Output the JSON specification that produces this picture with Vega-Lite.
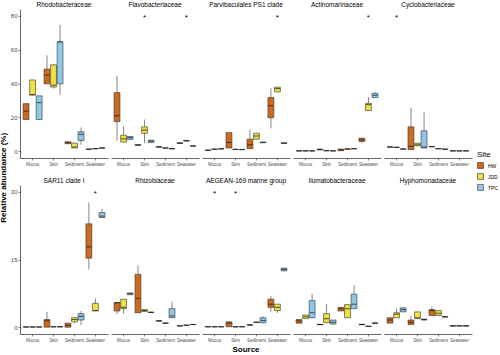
{
  "$schema": "https://vega.github.io/schema/vega-lite/v6.json",
  "padding": {"left": 0, "top": 1, "right": 0, "bottom": 0},
  "background": "white",
  "title": {"text": "Relative abundance (%)", "orient": "left", "anchor": "middle", "fontSize": 8, "fontWeight": "bold", "font": "Liberation Sans", "offset": 2, "color": "black"},
  "config": {
    "font": "Liberation Sans",
    "view": {"stroke": null},
    "axis": {"domainColor": "black", "domainWidth": 0.6, "tickColor": "#333333", "tickWidth": 0.6, "tickSize": 2, "labelColor": "#4d4d4d", "grid": false, "labelPadding": 1, "labelOverlap": false, "titleFont": "Liberation Sans", "titleFontWeight": "bold", "titleColor": "black"},
    "header": {"labelFont": "Liberation Sans", "labelFontSize": 6.5, "labelColor": "black", "labelPadding": 1, "titleFont": "Liberation Sans", "titleFontSize": 8, "titleFontWeight": "bold", "titleColor": "black", "titlePadding": 1},
    "legend": {"titleFontSize": 8, "titleFontWeight": "normal", "labelFontSize": 5, "symbolType": "square", "symbolSize": 35, "symbolStrokeColor": "#333333", "symbolStrokeWidth": 0.6, "rowPadding": 2, "titlePadding": 3}
  },
  "datasets": {
    "d": [
      {"r":"a","f":"Rhodobacteraceae","s":"Mucus","site":"HW","lo":18.7,"q1":18.7,"md":23.7,"q3":28.1,"hi":28.1},
      {"r":"a","f":"Rhodobacteraceae","s":"Mucus","site":"JDD","lo":33.1,"q1":33.1,"md":33.5,"q3":42.1,"hi":42.1},
      {"r":"a","f":"Rhodobacteraceae","s":"Mucus","site":"TPC","lo":18.7,"q1":18.7,"md":28.7,"q3":32.7,"hi":32.7},
      {"r":"a","f":"Rhodobacteraceae","s":"Skin","site":"HW","lo":39.8,"q1":39.8,"md":45,"q3":48.5,"hi":56.7},
      {"r":"a","f":"Rhodobacteraceae","s":"Skin","site":"JDD","lo":37,"q1":37.9,"md":39,"q3":51,"hi":51.5},
      {"r":"a","f":"Rhodobacteraceae","s":"Skin","site":"TPC","lo":33.3,"q1":39.8,"md":64.6,"q3":64.6,"hi":74.6},
      {"r":"a","f":"Rhodobacteraceae","s":"Sediment","site":"HW","lo":4.4,"q1":4.4,"md":5,"q3":5.6,"hi":5.6},
      {"r":"a","f":"Rhodobacteraceae","s":"Sediment","site":"JDD","lo":1.9,"q1":1.9,"md":2.5,"q3":4.8,"hi":4.8},
      {"r":"a","f":"Rhodobacteraceae","s":"Sediment","site":"TPC","lo":3.8,"q1":6.3,"md":10,"q3":11.5,"hi":14},
      {"r":"a","f":"Rhodobacteraceae","s":"Seawater","site":"HW","lo":1,"q1":1.1,"md":1.2,"q3":1.3,"hi":1.4},
      {"r":"a","f":"Rhodobacteraceae","s":"Seawater","site":"JDD","lo":1.3,"q1":1.4,"md":1.5,"q3":1.6,"hi":1.7},
      {"r":"a","f":"Rhodobacteraceae","s":"Seawater","site":"TPC","lo":1.7,"q1":1.8,"md":1.9,"q3":2,"hi":2.1},

      {"r":"a","f":"Flavobacteriaceae","s":"Mucus","site":"HW","lo":6.2,"q1":17.5,"md":21,"q3":34.6,"hi":44.6},
      {"r":"a","f":"Flavobacteriaceae","s":"Mucus","site":"JDD","lo":5.4,"q1":5.4,"md":7.3,"q3":9.4,"hi":14.8},
      {"r":"a","f":"Flavobacteriaceae","s":"Mucus","site":"TPC","lo":7,"q1":7,"md":8,"q3":8.7,"hi":8.7},
      {"r":"a","f":"Flavobacteriaceae","s":"Skin","site":"HW","lo":3.4,"q1":3.5,"md":3.7,"q3":3.9,"hi":4},
      {"r":"a","f":"Flavobacteriaceae","s":"Skin","site":"JDD","lo":4.8,"q1":10.6,"md":12.5,"q3":14.4,"hi":18.7},
      {"r":"a","f":"Flavobacteriaceae","s":"Skin","site":"TPC","lo":5.2,"q1":5.2,"md":6,"q3":6.5,"hi":6.5},
      {"r":"a","f":"Flavobacteriaceae","s":"Sediment","site":"HW","lo":2.3,"q1":2.4,"md":2.5,"q3":2.7,"hi":2.8},
      {"r":"a","f":"Flavobacteriaceae","s":"Sediment","site":"JDD","lo":1.7,"q1":1.8,"md":1.9,"q3":2,"hi":2.1},
      {"r":"a","f":"Flavobacteriaceae","s":"Sediment","site":"TPC","lo":1.3,"q1":1.4,"md":1.5,"q3":1.6,"hi":1.7},
      {"r":"a","f":"Flavobacteriaceae","s":"Seawater","site":"HW","lo":4.5,"q1":4.6,"md":4.8,"q3":5,"hi":5.1},
      {"r":"a","f":"Flavobacteriaceae","s":"Seawater","site":"JDD","lo":5.8,"q1":6,"md":6.2,"q3":6.4,"hi":6.6},
      {"r":"a","f":"Flavobacteriaceae","s":"Seawater","site":"TPC","lo":2.9,"q1":3,"md":3.1,"q3":3.2,"hi":3.3},
      {"r":"a","f":"Flavobacteriaceae","s":"Skin","star":80},
      {"r":"a","f":"Flavobacteriaceae","s":"Seawater","star":80},

      {"r":"a","f":"Parvibaculales PS1 clade","s":"Mucus","site":"HW","lo":0.5,"q1":0.5,"md":0.6,"q3":0.7,"hi":0.7},
      {"r":"a","f":"Parvibaculales PS1 clade","s":"Mucus","site":"JDD","lo":1,"q1":1.1,"md":1.2,"q3":1.3,"hi":1.4},
      {"r":"a","f":"Parvibaculales PS1 clade","s":"Mucus","site":"TPC","lo":1.2,"q1":1.3,"md":1.4,"q3":1.5,"hi":1.6},
      {"r":"a","f":"Parvibaculales PS1 clade","s":"Skin","site":"HW","lo":1.9,"q1":1.9,"md":5.2,"q3":11,"hi":11},
      {"r":"a","f":"Parvibaculales PS1 clade","s":"Skin","site":"JDD","lo":0.9,"q1":1,"md":1.1,"q3":1.2,"hi":1.3},
      {"r":"a","f":"Parvibaculales PS1 clade","s":"Skin","site":"TPC","lo":0.8,"q1":0.9,"md":1,"q3":1.1,"hi":1.2},
      {"r":"a","f":"Parvibaculales PS1 clade","s":"Sediment","site":"HW","lo":1.5,"q1":1.5,"md":3.8,"q3":7.1,"hi":12.9},
      {"r":"a","f":"Parvibaculales PS1 clade","s":"Sediment","site":"JDD","lo":7.1,"q1":7.1,"md":9,"q3":10.6,"hi":10.6},
      {"r":"a","f":"Parvibaculales PS1 clade","s":"Sediment","site":"TPC","lo":4.9,"q1":5,"md":5.2,"q3":5.4,"hi":5.5},
      {"r":"a","f":"Parvibaculales PS1 clade","s":"Seawater","site":"HW","lo":13.5,"q1":19.8,"md":26.9,"q3":31.7,"hi":37.1},
      {"r":"a","f":"Parvibaculales PS1 clade","s":"Seawater","site":"JDD","lo":35,"q1":35,"md":37,"q3":37.8,"hi":37.8},
      {"r":"a","f":"Parvibaculales PS1 clade","s":"Seawater","site":"TPC","lo":4.5,"q1":4.6,"md":4.8,"q3":5,"hi":5.1},
      {"r":"a","f":"Parvibaculales PS1 clade","s":"Seawater","star":80},

      {"r":"a","f":"Actinomarinaceae","s":"Mucus","site":"HW","lo":0.1,"q1":0.15,"md":0.2,"q3":0.25,"hi":0.3},
      {"r":"a","f":"Actinomarinaceae","s":"Mucus","site":"JDD","lo":0.1,"q1":0.15,"md":0.2,"q3":0.25,"hi":0.3},
      {"r":"a","f":"Actinomarinaceae","s":"Mucus","site":"TPC","lo":0.1,"q1":0.15,"md":0.2,"q3":0.25,"hi":0.3},
      {"r":"a","f":"Actinomarinaceae","s":"Skin","site":"HW","lo":0.6,"q1":0.8,"md":1,"q3":1.2,"hi":1.6},
      {"r":"a","f":"Actinomarinaceae","s":"Skin","site":"JDD","lo":0.2,"q1":0.25,"md":0.3,"q3":0.4,"hi":0.5},
      {"r":"a","f":"Actinomarinaceae","s":"Skin","site":"TPC","lo":0.1,"q1":0.15,"md":0.2,"q3":0.25,"hi":0.3},
      {"r":"a","f":"Actinomarinaceae","s":"Sediment","site":"HW","lo":0.2,"q1":0.3,"md":0.8,"q3":1.3,"hi":1.3},
      {"r":"a","f":"Actinomarinaceae","s":"Sediment","site":"JDD","lo":1.1,"q1":1.2,"md":1.3,"q3":1.4,"hi":1.5},
      {"r":"a","f":"Actinomarinaceae","s":"Sediment","site":"TPC","lo":1.3,"q1":1.4,"md":1.5,"q3":1.6,"hi":1.7},
      {"r":"a","f":"Actinomarinaceae","s":"Seawater","site":"HW","lo":5,"q1":5.8,"md":6.7,"q3":7.7,"hi":8},
      {"r":"a","f":"Actinomarinaceae","s":"Seawater","site":"JDD","lo":24,"q1":24,"md":27.5,"q3":28.3,"hi":32},
      {"r":"a","f":"Actinomarinaceae","s":"Seawater","site":"TPC","lo":31.7,"q1":31.7,"md":33,"q3":34.2,"hi":35},
      {"r":"a","f":"Actinomarinaceae","s":"Seawater","star":80},

      {"r":"a","f":"Cyclobacteriaceae","s":"Mucus","site":"HW","lo":2.3,"q1":2.4,"md":2.5,"q3":2.6,"hi":2.7},
      {"r":"a","f":"Cyclobacteriaceae","s":"Mucus","site":"JDD","lo":2.1,"q1":2.2,"md":2.3,"q3":2.4,"hi":2.5},
      {"r":"a","f":"Cyclobacteriaceae","s":"Mucus","site":"TPC","lo":1.1,"q1":1.2,"md":1.3,"q3":1.4,"hi":1.5},
      {"r":"a","f":"Cyclobacteriaceae","s":"Skin","site":"HW","lo":1,"q1":1,"md":2.9,"q3":14.4,"hi":25.6},
      {"r":"a","f":"Cyclobacteriaceae","s":"Skin","site":"JDD","lo":3.2,"q1":3.2,"md":3.8,"q3":4.7,"hi":4.7},
      {"r":"a","f":"Cyclobacteriaceae","s":"Skin","site":"TPC","lo":1.9,"q1":1.9,"md":2.5,"q3":12.1,"hi":23},
      {"r":"a","f":"Cyclobacteriaceae","s":"Sediment","site":"HW","lo":2.5,"q1":2.6,"md":2.7,"q3":2.8,"hi":3},
      {"r":"a","f":"Cyclobacteriaceae","s":"Sediment","site":"JDD","lo":1.3,"q1":1.4,"md":1.5,"q3":1.6,"hi":1.7},
      {"r":"a","f":"Cyclobacteriaceae","s":"Sediment","site":"TPC","lo":1,"q1":1.1,"md":1.2,"q3":1.3,"hi":1.4},
      {"r":"a","f":"Cyclobacteriaceae","s":"Seawater","site":"HW","lo":0.1,"q1":0.15,"md":0.2,"q3":0.25,"hi":0.3},
      {"r":"a","f":"Cyclobacteriaceae","s":"Seawater","site":"JDD","lo":0.1,"q1":0.15,"md":0.2,"q3":0.25,"hi":0.3},
      {"r":"a","f":"Cyclobacteriaceae","s":"Seawater","site":"TPC","lo":0.1,"q1":0.15,"md":0.2,"q3":0.25,"hi":0.3},
      {"r":"a","f":"Cyclobacteriaceae","s":"Mucus","star":80},

      {"r":"b","f":"SAR11 clade I","s":"Mucus","site":"HW","lo":0.02,"q1":0.03,"md":0.05,"q3":0.07,"hi":0.08},
      {"r":"b","f":"SAR11 clade I","s":"Mucus","site":"JDD","lo":0.02,"q1":0.03,"md":0.05,"q3":0.07,"hi":0.08},
      {"r":"b","f":"SAR11 clade I","s":"Mucus","site":"TPC","lo":0.02,"q1":0.03,"md":0.05,"q3":0.07,"hi":0.08},
      {"r":"b","f":"SAR11 clade I","s":"Skin","site":"HW","lo":0,"q1":0,"md":1.4,"q3":1.7,"hi":3.4},
      {"r":"b","f":"SAR11 clade I","s":"Skin","site":"JDD","lo":0.05,"q1":0.08,"md":0.1,"q3":0.12,"hi":0.15},
      {"r":"b","f":"SAR11 clade I","s":"Skin","site":"TPC","lo":0.05,"q1":0.08,"md":0.1,"q3":0.12,"hi":0.15},
      {"r":"b","f":"SAR11 clade I","s":"Sediment","site":"HW","lo":0,"q1":0,"md":0.4,"q3":0.9,"hi":0.9},
      {"r":"b","f":"SAR11 clade I","s":"Sediment","site":"JDD","lo":0.9,"q1":1.2,"md":1.7,"q3":2.1,"hi":2.1},
      {"r":"b","f":"SAR11 clade I","s":"Sediment","site":"TPC","lo":0.5,"q1":1.6,"md":2.4,"q3":3,"hi":3.6},
      {"r":"b","f":"SAR11 clade I","s":"Seawater","site":"HW","lo":12.8,"q1":15.3,"md":17.8,"q3":22.9,"hi":27.6},
      {"r":"b","f":"SAR11 clade I","s":"Seawater","site":"JDD","lo":3.6,"q1":3.6,"md":3.7,"q3":5.3,"hi":6.4},
      {"r":"b","f":"SAR11 clade I","s":"Seawater","site":"TPC","lo":24.3,"q1":24.3,"md":24.6,"q3":25.4,"hi":26.2},
      {"r":"b","f":"SAR11 clade I","s":"Seawater","star":30},

      {"r":"b","f":"Rhizobiaceae","s":"Mucus","site":"HW","lo":2.9,"q1":3.6,"md":5.4,"q3":5.5,"hi":5.5},
      {"r":"b","f":"Rhizobiaceae","s":"Mucus","site":"JDD","lo":3,"q1":4.1,"md":4.4,"q3":6.2,"hi":6.2},
      {"r":"b","f":"Rhizobiaceae","s":"Mucus","site":"TPC","lo":7.2,"q1":7.2,"md":7.4,"q3":7.6,"hi":7.6},
      {"r":"b","f":"Rhizobiaceae","s":"Skin","site":"HW","lo":3.2,"q1":3.2,"md":6.4,"q3":11.7,"hi":13.7},
      {"r":"b","f":"Rhizobiaceae","s":"Skin","site":"JDD","lo":3.5,"q1":3.5,"md":3.7,"q3":3.9,"hi":3.9},
      {"r":"b","f":"Rhizobiaceae","s":"Skin","site":"TPC","lo":3.2,"q1":3.25,"md":3.3,"q3":3.35,"hi":3.4},
      {"r":"b","f":"Rhizobiaceae","s":"Sediment","site":"HW","lo":1.3,"q1":1.35,"md":1.4,"q3":1.45,"hi":1.5},
      {"r":"b","f":"Rhizobiaceae","s":"Sediment","site":"JDD","lo":0.8,"q1":0.85,"md":0.9,"q3":0.95,"hi":1},
      {"r":"b","f":"Rhizobiaceae","s":"Sediment","site":"TPC","lo":2.1,"q1":2.1,"md":2.5,"q3":4.1,"hi":5.7},
      {"r":"b","f":"Rhizobiaceae","s":"Seawater","site":"HW","lo":0.25,"q1":0.28,"md":0.3,"q3":0.32,"hi":0.35},
      {"r":"b","f":"Rhizobiaceae","s":"Seawater","site":"JDD","lo":0.4,"q1":0.42,"md":0.45,"q3":0.48,"hi":0.5},
      {"r":"b","f":"Rhizobiaceae","s":"Seawater","site":"TPC","lo":0.55,"q1":0.58,"md":0.6,"q3":0.62,"hi":0.65},

      {"r":"b","f":"AEGEAN-169 marine group","s":"Mucus","site":"HW","lo":0.05,"q1":0.08,"md":0.1,"q3":0.12,"hi":0.15},
      {"r":"b","f":"AEGEAN-169 marine group","s":"Mucus","site":"JDD","lo":0.05,"q1":0.08,"md":0.1,"q3":0.12,"hi":0.15},
      {"r":"b","f":"AEGEAN-169 marine group","s":"Mucus","site":"TPC","lo":0.05,"q1":0.08,"md":0.1,"q3":0.12,"hi":0.15},
      {"r":"b","f":"AEGEAN-169 marine group","s":"Skin","site":"HW","lo":0.1,"q1":0.1,"md":0.9,"q3":1.2,"hi":1.2},
      {"r":"b","f":"AEGEAN-169 marine group","s":"Skin","site":"JDD","lo":0.05,"q1":0.08,"md":0.1,"q3":0.12,"hi":0.15},
      {"r":"b","f":"AEGEAN-169 marine group","s":"Skin","site":"TPC","lo":0.05,"q1":0.08,"md":0.1,"q3":0.12,"hi":0.15},
      {"r":"b","f":"AEGEAN-169 marine group","s":"Sediment","site":"HW","lo":0.4,"q1":0.45,"md":0.5,"q3":0.55,"hi":0.6},
      {"r":"b","f":"AEGEAN-169 marine group","s":"Sediment","site":"JDD","lo":1,"q1":1.05,"md":1.1,"q3":1.15,"hi":1.2},
      {"r":"b","f":"AEGEAN-169 marine group","s":"Sediment","site":"TPC","lo":0.8,"q1":1,"md":1.5,"q3":2.1,"hi":2.4},
      {"r":"b","f":"AEGEAN-169 marine group","s":"Seawater","site":"HW","lo":3.4,"q1":4.4,"md":5.1,"q3":6.2,"hi":6.9},
      {"r":"b","f":"AEGEAN-169 marine group","s":"Seawater","site":"JDD","lo":3.2,"q1":3.7,"md":4.4,"q3":5.1,"hi":5.1},
      {"r":"b","f":"AEGEAN-169 marine group","s":"Seawater","site":"TPC","lo":12.4,"q1":12.5,"md":12.8,"q3":13.1,"hi":13.2},
      {"r":"b","f":"AEGEAN-169 marine group","s":"Mucus","star":30},
      {"r":"b","f":"AEGEAN-169 marine group","s":"Skin","star":30},

      {"r":"b","f":"Ilumatobacteraceae","s":"Mucus","site":"HW","lo":0.9,"q1":0.9,"md":1.4,"q3":1.7,"hi":1.7},
      {"r":"b","f":"Ilumatobacteraceae","s":"Mucus","site":"JDD","lo":1.9,"q1":1.9,"md":2.3,"q3":2.7,"hi":2.7},
      {"r":"b","f":"Ilumatobacteraceae","s":"Mucus","site":"TPC","lo":2.1,"q1":2.1,"md":3.2,"q3":5.9,"hi":7.4},
      {"r":"b","f":"Ilumatobacteraceae","s":"Skin","site":"HW","lo":0.5,"q1":0.55,"md":0.6,"q3":0.65,"hi":0.7},
      {"r":"b","f":"Ilumatobacteraceae","s":"Skin","site":"JDD","lo":1,"q1":1,"md":1.9,"q3":3,"hi":5.1},
      {"r":"b","f":"Ilumatobacteraceae","s":"Skin","site":"TPC","lo":0.7,"q1":0.7,"md":1.1,"q3":1.6,"hi":1.6},
      {"r":"b","f":"Ilumatobacteraceae","s":"Sediment","site":"HW","lo":3.6,"q1":3.6,"md":4.1,"q3":4.4,"hi":4.4},
      {"r":"b","f":"Ilumatobacteraceae","s":"Sediment","site":"JDD","lo":2.1,"q1":2.1,"md":4.1,"q3":5,"hi":5},
      {"r":"b","f":"Ilumatobacteraceae","s":"Sediment","site":"TPC","lo":4.1,"q1":4.1,"md":5.1,"q3":7.3,"hi":9.3},
      {"r":"b","f":"Ilumatobacteraceae","s":"Seawater","site":"HW","lo":0.5,"q1":0.55,"md":0.6,"q3":0.65,"hi":0.7},
      {"r":"b","f":"Ilumatobacteraceae","s":"Seawater","site":"JDD","lo":0.15,"q1":0.18,"md":0.2,"q3":0.22,"hi":0.25},
      {"r":"b","f":"Ilumatobacteraceae","s":"Seawater","site":"TPC","lo":0.8,"q1":0.85,"md":0.9,"q3":0.95,"hi":1},

      {"r":"b","f":"Hyphomonadaceae","s":"Mucus","site":"HW","lo":0.9,"q1":0.9,"md":1.6,"q3":2.1,"hi":2.1},
      {"r":"b","f":"Hyphomonadaceae","s":"Mucus","site":"JDD","lo":2.1,"q1":2.1,"md":2.9,"q3":3.2,"hi":4.1},
      {"r":"b","f":"Hyphomonadaceae","s":"Mucus","site":"TPC","lo":3.4,"q1":3.4,"md":3.9,"q3":4.3,"hi":4.3},
      {"r":"b","f":"Hyphomonadaceae","s":"Skin","site":"HW","lo":0.6,"q1":0.6,"md":1.1,"q3":1.6,"hi":2.5},
      {"r":"b","f":"Hyphomonadaceae","s":"Skin","site":"JDD","lo":1.9,"q1":1.9,"md":2.1,"q3":3.4,"hi":3.4},
      {"r":"b","f":"Hyphomonadaceae","s":"Skin","site":"TPC","lo":1.5,"q1":1.6,"md":1.7,"q3":1.8,"hi":1.9},
      {"r":"b","f":"Hyphomonadaceae","s":"Sediment","site":"HW","lo":2.6,"q1":2.6,"md":3.7,"q3":3.9,"hi":4.6},
      {"r":"b","f":"Hyphomonadaceae","s":"Sediment","site":"JDD","lo":2.6,"q1":2.6,"md":3.1,"q3":3.7,"hi":3.7},
      {"r":"b","f":"Hyphomonadaceae","s":"Sediment","site":"TPC","lo":2.2,"q1":2.25,"md":2.3,"q3":2.35,"hi":2.4},
      {"r":"b","f":"Hyphomonadaceae","s":"Seawater","site":"HW","lo":0.2,"q1":0.25,"md":0.3,"q3":0.35,"hi":0.4},
      {"r":"b","f":"Hyphomonadaceae","s":"Seawater","site":"JDD","lo":0.2,"q1":0.25,"md":0.3,"q3":0.35,"hi":0.4},
      {"r":"b","f":"Hyphomonadaceae","s":"Seawater","site":"TPC","lo":0.2,"q1":0.25,"md":0.3,"q3":0.35,"hi":0.4}
    ]
  },
  "resolve": {"scale": {"y": "independent"}},
  "vconcat": [
    {
      "data": {"name": "d"},
      "transform": [{"filter": "datum.r == 'a'"}],
      "facet": {"column": {"field": "f", "type": "nominal", "title": null, "sort": ["Rhodobacteraceae", "Flavobacteriaceae", "Parvibaculales PS1 clade", "Actinomarinaceae", "Cyclobacteriaceae"]}},
      "spacing": 3,
      "spec": {
        "width": 88,
        "height": 149,
        "encoding": {
          "x": {"field": "s", "type": "nominal", "sort": ["Mucus", "Skin", "Sediment", "Seawater"], "scale": {"paddingInner": 0, "paddingOuter": 0.1}, "axis": {"title": null, "labelAngle": 0, "labelFontSize": 4.5}}
        },
        "layer": [
          {"transform": [{"filter": "isValid(datum.lo)"}], "mark": {"type": "rule", "color": "#333333", "strokeWidth": 0.6},
           "encoding": {"xOffset": {"field": "site", "scale": {"paddingInner": 0.1, "paddingOuter": 0.15}},
             "y": {"field": "lo", "type": "quantitative", "scale": {"domain": [-4, 84], "nice": false, "zero": false}, "axis": {"values": [0, 20, 40, 60, 80], "labelOverlap": false, "title": null, "labelFontSize": 6}},
             "y2": {"field": "hi"}}},
          {"transform": [{"filter": "isValid(datum.lo)"}], "mark": {"type": "bar", "stroke": "#333333", "strokeWidth": 0.6},
           "encoding": {"xOffset": {"field": "site"}, "y": {"field": "q1", "type": "quantitative", "axis": {"values": [0, 20, 40, 60, 80], "labelOverlap": false, "title": null, "labelFontSize": 6}}, "y2": {"field": "q3"},
             "color": {"field": "site", "type": "nominal", "scale": {"domain": ["HW", "JDD", "TPC"], "range": ["#CC6A1F", "#F0E043", "#8FC7E6"]},
               "legend": {"title": "Site", "orient": "none", "legendX": 457, "legendY": 142}}}},
          {"transform": [{"filter": "isValid(datum.lo)"}], "mark": {"type": "tick", "color": "#111111", "thickness": 1, "size": 5},
           "encoding": {"xOffset": {"field": "site"}, "y": {"field": "md", "type": "quantitative", "axis": {"values": [0, 20, 40, 60, 80], "labelOverlap": false, "title": null, "labelFontSize": 6}}}},
          {"transform": [{"filter": "isValid(datum.star)"}], "mark": {"type": "text", "text": "*", "fontSize": 8, "baseline": "middle", "dy": 2, "color": "black"},
           "encoding": {"y": {"field": "star", "type": "quantitative", "axis": {"values": [0, 20, 40, 60, 80], "labelOverlap": false, "title": null, "labelFontSize": 6}}}}
        ]
      }
    },
    {
      "data": {"name": "d"},
      "transform": [{"filter": "datum.r == 'b'"}],
      "facet": {"column": {"field": "f", "type": "nominal", "title": "Source", "header": {"titleOrient": "bottom", "labelOrient": "top", "titlePadding": -6}, "sort": ["SAR11 clade I", "Rhizobiaceae", "AEGEAN-169 marine group", "Ilumatobacteraceae", "Hyphomonadaceae"]}},
      "spacing": 3,
      "spec": {
        "width": 88,
        "height": 149,
        "encoding": {
          "x": {"field": "s", "type": "nominal", "sort": ["Mucus", "Skin", "Sediment", "Seawater"], "scale": {"paddingInner": 0, "paddingOuter": 0.1}, "axis": {"title": null, "labelAngle": 0, "labelFontSize": 4.5}}
        },
        "layer": [
          {"transform": [{"filter": "isValid(datum.lo)"}], "mark": {"type": "rule", "color": "#333333", "strokeWidth": 0.6},
           "encoding": {"xOffset": {"field": "site", "scale": {"paddingInner": 0.1, "paddingOuter": 0.15}},
             "y": {"field": "lo", "type": "quantitative", "scale": {"domain": [-1.5, 31.5], "nice": false, "zero": false}, "axis": {"values": [0, 15, 30], "labelOverlap": false, "title": null, "labelFontSize": 6}},
             "y2": {"field": "hi"}}},
          {"transform": [{"filter": "isValid(datum.lo)"}], "mark": {"type": "bar", "stroke": "#333333", "strokeWidth": 0.6},
           "encoding": {"xOffset": {"field": "site"}, "y": {"field": "q1", "type": "quantitative", "axis": {"values": [0, 15, 30], "labelOverlap": false, "title": null, "labelFontSize": 6}}, "y2": {"field": "q3"},
             "color": {"field": "site", "type": "nominal"}}},
          {"transform": [{"filter": "isValid(datum.lo)"}], "mark": {"type": "tick", "color": "#111111", "thickness": 1, "size": 5},
           "encoding": {"xOffset": {"field": "site"}, "y": {"field": "md", "type": "quantitative", "axis": {"values": [0, 15, 30], "labelOverlap": false, "title": null, "labelFontSize": 6}}}},
          {"transform": [{"filter": "isValid(datum.star)"}], "mark": {"type": "text", "text": "*", "fontSize": 8, "baseline": "middle", "dy": 2, "color": "black"},
           "encoding": {"y": {"field": "star", "type": "quantitative", "axis": {"values": [0, 15, 30], "labelOverlap": false, "title": null, "labelFontSize": 6}}}}
        ]
      }
    }
  ],
  "spacing": 11
}
